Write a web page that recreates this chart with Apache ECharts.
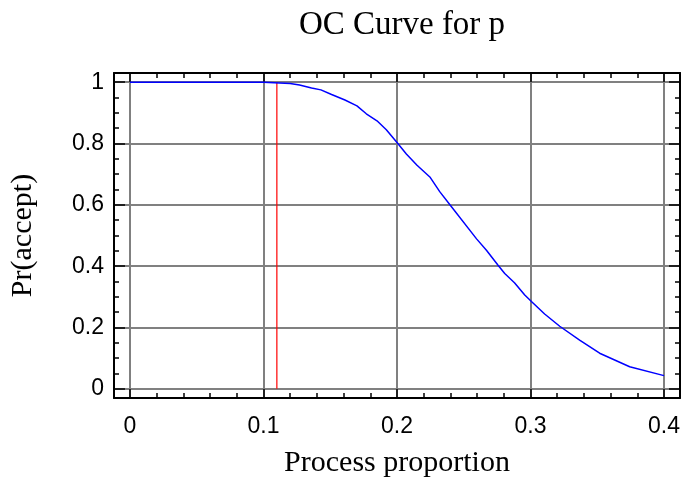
<!DOCTYPE html>
<html>
<head>
<meta charset="utf-8">
<script src="https://cdn.jsdelivr.net/npm/echarts@6/dist/echarts.min.js"></script>
<style>html,body{margin:0;padding:0;background:#fff}#c{width:683px;height:483px}</style>
</head>
<body>
<div id="c"></div>
<script>
// ---- data ----
const proportion = [0, 0.1, 0.12, 0.127, 0.136, 0.143, 0.151, 0.161, 0.17, 0.177, 0.185, 0.192, 0.2, 0.207, 0.215, 0.2246, 0.232, 0.2395, 0.2596, 0.267, 0.2757, 0.2807, 0.288, 0.2957, 0.3007, 0.3106, 0.3219, 0.3368, 0.3518, 0.3743, 0.4];
const prAccept   = [1, 1, 0.996, 0.991, 0.981, 0.975, 0.960, 0.942, 0.923, 0.897, 0.874, 0.845, 0.803, 0.766, 0.729, 0.691, 0.643, 0.601, 0.489, 0.452, 0.403, 0.376, 0.346, 0.306, 0.285, 0.244, 0.204, 0.159, 0.116, 0.072, 0.043];
const refX = [0.11, 0.11];
const refY = [0, 1];
const xMajor = [0, 0.1, 0.2, 0.3, 0.4];
const xMinor = [0.02, 0.04, 0.06, 0.08, 0.12, 0.14, 0.16, 0.18, 0.22, 0.24, 0.26, 0.28, 0.32, 0.34, 0.36, 0.38];
const yMajor = [0, 0.2, 0.4, 0.6, 0.8, 1];
const yMinor = [0.05, 0.1, 0.15, 0.25, 0.3, 0.35, 0.45, 0.5, 0.55, 0.65, 0.7, 0.75, 0.85, 0.9, 0.95];
const titleText = 'OC Curve for p';
const xName = 'Process proportion';
const yName = 'Pr(accept)';

const serif = 'Liberation Serif';
const sans = 'Liberation Sans';
const X_MIN = -0.012, X_MAX = 0.412, Y_MIN = -0.03, Y_MAX = 1.03;

function xAx(pos, vals, major, withLabel) {
  return {
    type: 'value', position: pos, min: X_MIN, max: X_MAX,
    name: withLabel ? xName : '', nameLocation: 'middle', nameGap: 50,
    nameTextStyle: { fontFamily: serif, fontSize: 30, color: '#000' },
    axisLine: { show: major, onZero: false, lineStyle: { color: '#000', width: 2 } },
    axisTick: { show: true, inside: true, length: major ? 9 : 5, customValues: vals, lineStyle: { color: '#000', width: 1.5 } },
    axisLabel: { show: withLabel, customValues: vals, margin: 17, fontFamily: sans, fontSize: 23, color: '#000' },
    splitLine: { show: major && pos === 'bottom', lineStyle: { color: '#808080', width: 2 } }
  };
}
function yAx(pos, vals, major, withLabel) {
  return {
    type: 'value', position: pos, min: Y_MIN, max: Y_MAX,
    name: withLabel ? yName : '', nameLocation: 'middle', nameGap: 76,
    nameTextStyle: { fontFamily: serif, fontSize: 30, color: '#000' },
    axisLine: { show: major, onZero: false, lineStyle: { color: '#000', width: 2 } },
    axisTick: { show: true, inside: true, length: major ? 11 : 5, customValues: vals, lineStyle: { color: '#000', width: 1.5 } },
    axisLabel: { show: withLabel, customValues: vals, margin: 10, fontFamily: sans, fontSize: 23, color: '#000' },
    splitLine: { show: major && pos === 'left', lineStyle: { color: '#808080', width: 2 } }
  };
}

const chart = echarts.init(document.getElementById('c'), null, { renderer: 'canvas' });
chart.setOption({
  animation: false,
  backgroundColor: '#fff',
  title: {
    text: titleText, left: 397, top: 4, textAlign: 'center',
    textStyle: { fontFamily: serif, fontSize: 33, fontWeight: 'normal', color: '#000' }
  },
  grid: { left: 114, right: 3, top: 73, bottom: 83 },
  xAxis: [
    xAx('bottom', xMajor, true, true),
    xAx('bottom', xMinor, false, false),
    xAx('top', xMajor, true, false),
    xAx('top', xMinor, false, false)
  ],
  yAxis: [
    yAx('left', yMajor, true, true),
    yAx('left', yMinor, false, false),
    yAx('right', yMajor, true, false),
    yAx('right', yMinor, false, false)
  ],
  series: [
    {
      type: 'line', xAxisIndex: 0, yAxisIndex: 0, showSymbol: false, symbol: 'none',
      data: proportion.map((p, i) => [p, prAccept[i]]),
      lineStyle: { color: '#0000ff', width: 1.5 }, itemStyle: { color: '#0000ff' }, z: 5
    },
    {
      type: 'line', xAxisIndex: 0, yAxisIndex: 0, showSymbol: false, symbol: 'none',
      data: refX.map((x, i) => [x, refY[i]]),
      lineStyle: { color: '#ff0000', width: 1.2 }, itemStyle: { color: '#ff0000' }, z: 4
    }
  ]
});
</script>
</body>
</html>
